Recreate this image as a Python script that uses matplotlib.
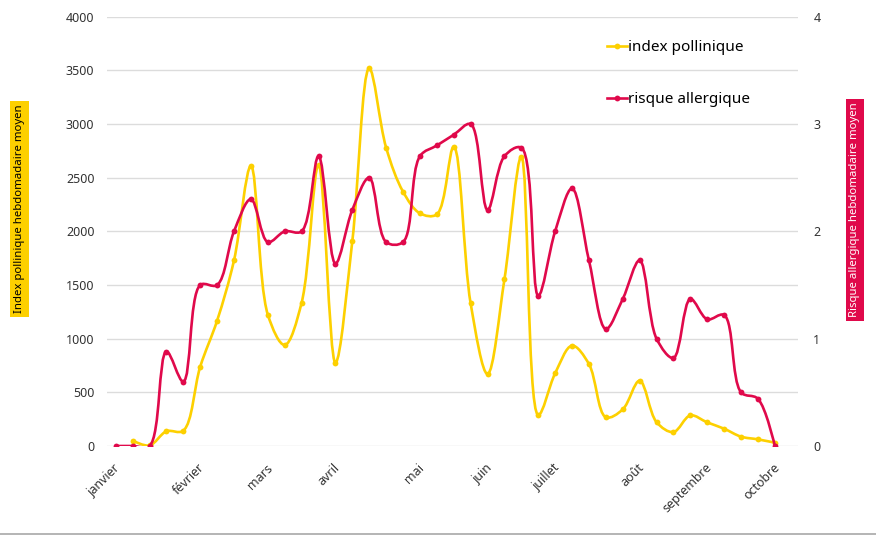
import matplotlib
matplotlib.use("Agg")
import numpy as np
import matplotlib.pyplot as plt
from matplotlib.path import Path
from matplotlib.patches import PathPatch
from matplotlib.lines import Line2D
import matplotlib.transforms as mtransforms

plt.rcParams['font.family'] = ['Noto Sans', 'DejaVu Sans']

# weekly values, week 0 = first week of january
weeks = list(range(40))
pollen_index = [None, 50, 5, 137, 143, 739, 1168, 1730, 2609, 1224,
                941, 1335, 2621, 776, 1910, 3519, 2780, 2370, 2168, 2158,
                2789, 1329, 671, 1553, 2696, 289, 677, 935, 764, 268,
                341, 608, 222, 130, 285, 220, 161, 87, 62, 31]
allergy_risk = [0, 0, 0, 0.88, 0.60, 1.5, 1.5, 2.0, 2.3, 1.9,
                2.0, 2.0, 2.7, 1.7, 2.2, 2.5, 1.9, 1.9, 2.7, 2.8,
                2.9, 3.0, 2.2, 2.7, 2.78, 1.4, 2.0, 2.4, 1.73, 1.09,
                1.37, 1.73, 1.0, 0.82, 1.37, 1.18, 1.22, 0.5, 0.44, 0]

month_weeks = [0, 5, 9, 13, 18, 22, 26, 31, 35, 39]
month_names = ["janvier", "février", "mars", "avril", "mai", "juin",
               "juillet", "août", "septembre", "octobre"]

YELLOW = "#FDD000"
RED = "#E0094B"


def catmull_rom(axis, xs, ys, alpha=0.5):
    # centripetal catmull-rom computed in screen space, returned in data space
    P = axis.transData.transform(np.column_stack([xs, ys]))
    n = len(P)
    verts = [P[0]]
    for i in range(n - 1):
        p1, p2 = P[i], P[i + 1]
        l12 = np.hypot(*(p2 - p1))
        l12a, l12_2a = l12 ** alpha, l12 ** (2 * alpha)
        c1 = p1.copy()
        if i > 0:
            p0 = P[i - 1]
            l01 = np.hypot(*(p1 - p0))
            l01a, l01_2a = l01 ** alpha, l01 ** (2 * alpha)
            if l01a > 1e-12:
                a = 2 * l01_2a + 3 * l01a * l12a + l12_2a
                nn = 3 * l01a * (l01a + l12a)
                c1 = (p1 * a - p0 * l12_2a + p2 * l01_2a) / nn
        c2 = p2.copy()
        if i + 2 < n:
            p3 = P[i + 2]
            l23 = np.hypot(*(p3 - p2))
            l23a, l23_2a = l23 ** alpha, l23 ** (2 * alpha)
            if l23a > 1e-12:
                b = 2 * l23_2a + 3 * l23a * l12a + l12_2a
                m = 3 * l23a * (l23a + l12a)
                c2 = (p2 * b + p1 * l23_2a - p3 * l12_2a) / m
        verts += [c1, c2, p2]
    verts = axis.transData.inverted().transform(np.array(verts))
    codes = [Path.MOVETO] + [Path.CURVE4] * (3 * (n - 1))
    return Path(verts, codes)


fig = plt.figure(figsize=(8.76, 5.35), dpi=100)
ax = fig.add_axes([107 / 876, 1 - 446 / 535, (798 - 107) / 876, (446 - 16.7) / 535])
ax2 = ax.twinx()

ax.set_xlim(-0.515, 40.37)
ax.set_ylim(0, 4000)
ax2.set_ylim(0, 4)
ax.set_yticks(range(0, 4001, 500))
ax2.set_yticks(range(0, 5))

px = [w for w, v in zip(weeks, pollen_index) if v is not None]
py = [v for v in pollen_index if v is not None]

ax.add_patch(PathPatch(catmull_rom(ax, px, py), fill=False, ec=YELLOW, lw=1.9,
                       capstyle='round', joinstyle='round'))
ax.plot(px, py, 'o', color=YELLOW, ms=4.2, mec='none')
ax2.add_patch(PathPatch(catmull_rom(ax2, weeks, allergy_risk), fill=False, ec=RED, lw=1.9,
                        capstyle='round', joinstyle='round'))
ax2.plot(weeks, allergy_risk, 'o', color=RED, ms=4.2, mec='none')

ax.grid(axis='y', color='#dcdcdc', lw=1)
ax.set_axisbelow(True)
for a in (ax, ax2):
    for s in a.spines.values():
        s.set_visible(False)
    a.tick_params(length=0, labelsize=9, labelcolor='#333333')
ax.tick_params(axis='y', pad=9)
ax2.tick_params(axis='y', pad=11)

ax.set_xticks(month_weeks)
ax.set_xticklabels(month_names, rotation=45, ha='right', va='top',
                   rotation_mode='anchor')
ax.tick_params(axis='x', pad=11)
shift = mtransforms.ScaledTranslation(-2 / 100, 0, fig.dpi_scale_trans)
for lbl in ax.get_xticklabels():
    lbl.set_transform(lbl.get_transform() + shift)

# axis titles on coloured bands
fig.text(19.5 / 876, 1 - 209 / 535, "Index pollinique hebdomadaire moyen",
         rotation=90, ha='center', va='center', fontsize=8.2, color='black',
         bbox=dict(boxstyle='square,pad=0.35', fc=YELLOW, ec='none'))
fig.text(855 / 876, 1 - 210 / 535, "Risque allergique hebdomadaire moyen",
         rotation=90, ha='center', va='center', fontsize=8.2, color='white',
         bbox=dict(boxstyle='square,pad=0.35', fc=RED, ec='none'))

handles = [Line2D([], [], color=YELLOW, lw=1.9, marker='o', ms=4.2, mec='none'),
           Line2D([], [], color=RED, lw=1.9, marker='o', ms=4.2, mec='none')]
ax2.legend(handles, ["index pollinique", "risque allergique"], loc='upper left',
           bbox_to_anchor=(607 / 876, 1 - 40 / 535), bbox_transform=fig.transFigure,
           frameon=False, fontsize=11, handlelength=1.3, handletextpad=0.1,
           labelspacing=2.45, borderpad=0, borderaxespad=0)

fig.add_artist(Line2D([0, 1], [1.5 / 535, 1.5 / 535], color='#a8a8a8', lw=1.2,
                      transform=fig.transFigure))

fig.savefig("out.png", dpi=100)
